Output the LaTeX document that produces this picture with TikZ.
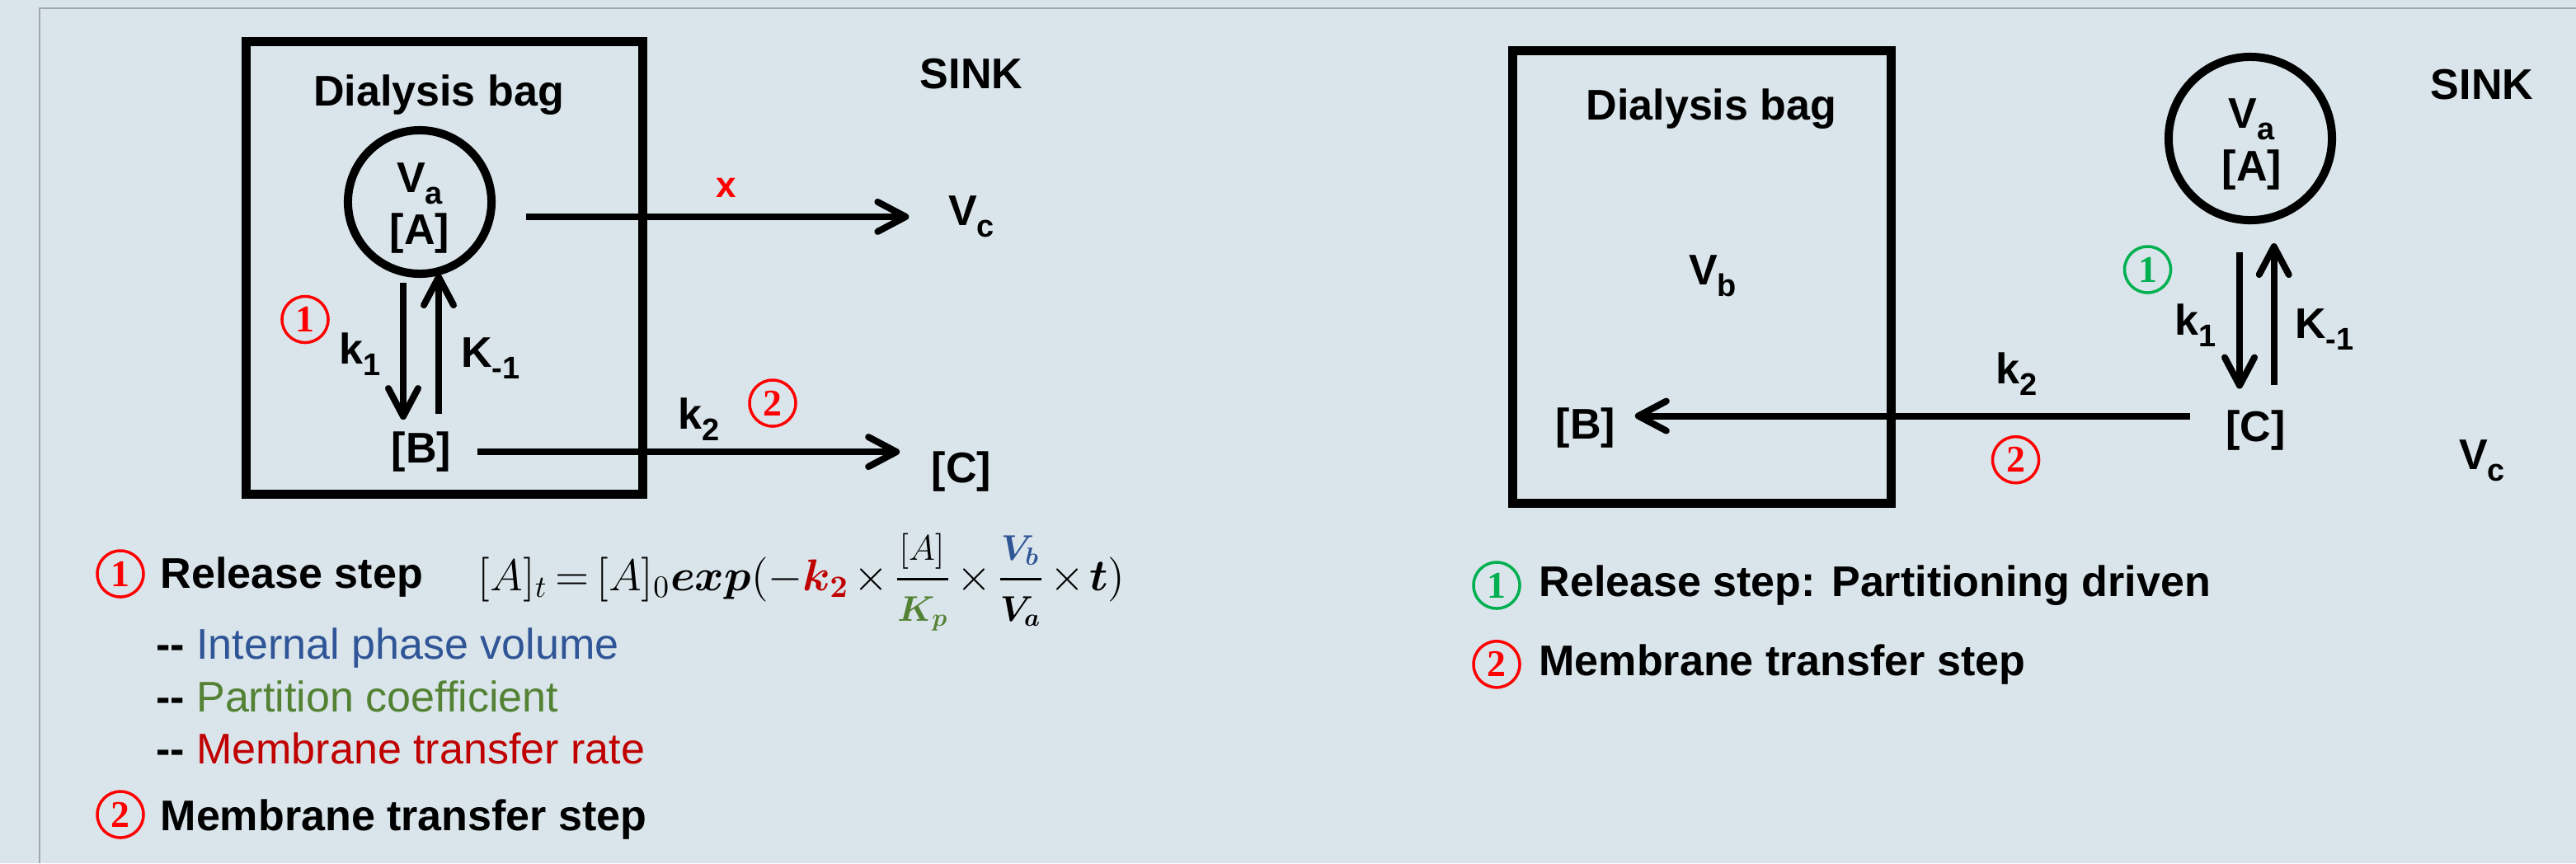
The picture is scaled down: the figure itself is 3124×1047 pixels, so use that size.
\documentclass[tikz,border=0pt]{standalone}
\usepackage[no-math]{fontspec}
\usepackage{amsmath}
\usepackage{graphicx}
\setmainfont{Liberation Sans}
\newfontfamily\numfont{Liberation Serif}
\usetikzlibrary{arrows.meta,positioning}

\definecolor{panel}{HTML}{DAE5EB}
\definecolor{rim}{HTML}{A0A8AE}
\definecolor{stepgreen}{HTML}{00B050}
\definecolor{volblue}{HTML}{2F5597}
\definecolor{partgreen}{HTML}{548235}
\definecolor{ratered}{HTML}{C00000}

% lowered subscript as in the slide
\newcommand{\lowsub}[1]{\raisebox{-0.27em}{\fontsize{10.8}{12}\selectfont #1}}
% fraction with slightly reduced parts
\newcommand{\slidefrac}[2]{\dfrac{\scalebox{0.8}{$#1$}}{\scalebox{0.8}{$#2$}}}

\tikzset{
	lbl/.style={font=\bfseries\fontsize{14.8}{17}\selectfont, inner sep=0pt, anchor=base},
	txt/.style={font=\fontsize{14.8}{17}\selectfont, inner sep=0pt, anchor=base west},
	bag/.style={line width=0.11cm},
	cell/.style={circle, draw, line width=0.1cm, inner sep=0pt, outer sep=0pt},
	flow/.style={line width=0.08cm, -{Straight Barb[length=0.34cm, width=0.36cm, round]}},
	stepnum/.style={circle, draw=#1, text=#1, line width=0.035cm, minimum size=0.56cm,
		inner sep=0pt, font=\numfont\bfseries\fontsize{13}{14}\selectfont}
}

\begin{document}
\begin{tikzpicture}[x=0.01cm, y=-0.01cm]
	\useasboundingbox (0,0) rectangle (3124,1047);
	\fill[panel] (0,0) rectangle (3124,1047);
	\draw[rim, line width=0.02cm] (48,1047) -- (48,10) -- (3124,10);

	% left: release is limited by the membrane
	\draw[bag] (298,50.6) rectangle (779,599.5);
	\node[lbl] (bagL) at (532,128.5) {Dialysis bag};
	\node[lbl] (sinkL) at (1178,107) {SINK};
	\node[cell, minimum size=1.74cm] (cirL) at (509,245) {};
	\node[lbl] (vaL) at (509,233) {V\lowsub{a}};
	\node[lbl] (aL) at (509,296.6) {[A]};
	\node[lbl] (vcL) at (1178,273.6) {V\lowsub{c}};
	\node[lbl, text=red, font=\bfseries\fontsize{12.5}{14}\selectfont] (crossL) at (881,239) {x};
	\node[lbl] (bL) at (511,561.5) {[B]};
	\node[lbl] (cL) at (1166,585) {[C]};
	\node[lbl] (k1L) at (436.5,441) {k\lowsub{1}};
	\node[lbl] (km1L) at (595,445) {K\lowsub{-1}};
	\node[lbl] (k2L) at (848,520) {k\lowsub{2}};
	\node[stepnum=red] (oneL) at (370,387.5) {1};
	\node[stepnum=red] (twoL) at (937,489) {2};

	\draw[flow, shorten <=0.42cm, shorten >=0.47cm] (cirL.east |- vcL.west) -- (vcL.west);
	\draw[flow, shorten <=0.11cm, shorten >=0.14cm] ([xshift=-0.2cm]cirL.south) -- ([xshift=-0.2cm]cirL.south |- bL.north);
	\draw[flow, shorten <=0.21cm] ([xshift=0.21cm]bL.north) -- ([xshift=0.21cm]bL.north |- cirL.south);
	\draw[flow, shorten <=0.31cm, shorten >=0.38cm] (bL.east) -- (bL.east -| cL.west);

	% right: release is driven by partitioning
	\draw[bag] (1834.6,61) rectangle (2293,610.7);
	\node[lbl] (bagR) at (2075.5,145.2) {Dialysis bag};
	\node[lbl] (sinkR) at (3010,120) {SINK};
	\node[cell, minimum size=1.98cm] (cirR) at (2729,168) {};
	\node[lbl] (vaR) at (2730.5,155.7) {V\lowsub{a}};
	\node[lbl] (aR) at (2731,219) {[A]};
	\node[lbl] (vbR) at (2077,345) {V\lowsub{b}};
	\node[lbl] (bR) at (1923,532.7) {[B]};
	\node[lbl] (cR) at (2735.7,535) {[C]};
	\node[lbl] (k2R) at (2446,465) {k\lowsub{2}};
	\node[lbl] (k1R) at (2662.5,406) {k\lowsub{1}};
	\node[lbl] (km1R) at (2819,410) {K\lowsub{-1}};
	\node[lbl] (vcR) at (3010,569) {V\lowsub{c}};
	\node[stepnum=stepgreen] (oneR) at (2604.5,327) {1};
	\node[stepnum=red] (twoR) at (2444.5,557.7) {2};

	\draw[flow, shorten <=0.39cm, shorten >=0.25cm] ([xshift=-0.13cm]cirR.south) -- ([xshift=-0.13cm]cirR.south |- cR.north);
	\draw[flow, shorten <=0.3cm, shorten >=0.28cm] ([xshift=0.22cm]cR.north) -- ([xshift=0.22cm]cR.north |- cirR.south);
	\draw[flow, shorten <=0.43cm, shorten >=0.23cm] ([yshift=0.17cm]cR.west) -- ([yshift=0.17cm]cR.west -| bR.east);

	% legends
	\node[stepnum=red] (oneB) at (146,696) {1};
	\node[lbl, anchor=base west] (relB) at (194,713.3) {Release step};
	\node[txt] (eqB) at (579,716) {\resizebox{7.84cm}{!}{$\medmuskip=2mu\thickmuskip=3mu [A]_t = [A]_0\boldsymbol{exp}(-\textcolor{ratered}{\boldsymbol{k_2}}\times\slidefrac{[A]}{\textcolor{partgreen}{\boldsymbol{K_p}}}\times\slidefrac{\textcolor{volblue}{\boldsymbol{V_b}}}{\boldsymbol{V_a}}\times\boldsymbol{t})$}};
	\node[txt] (volB) at (188.5,799.3) {\textbf{-{}-} \textcolor{volblue}{Internal phase volume}};
	\node[txt] (kpB) at (188.5,863.3) {\textbf{-{}-} \textcolor{partgreen}{Partition coefficient}};
	\node[txt] (rateB) at (188.5,926.7) {\textbf{-{}-} \textcolor{ratered}{Membrane transfer rate}};
	\node[stepnum=red] (twoB) at (146,988) {2};
	\node[lbl, anchor=base west] (memB) at (194,1007.3) {Membrane transfer step};

	\node[stepnum=stepgreen] (oneR2) at (1815,710) {1};
	\node[lbl, anchor=west] (partR) [right=0.21cm of oneR2] {Release step: Partitioning driven};
	\node[stepnum=red] (twoR2) at (1815,805.8) {2};
	\node[lbl, anchor=west] (memR) [right=0.21cm of twoR2] {Membrane transfer step};
\end{tikzpicture}
\end{document}
